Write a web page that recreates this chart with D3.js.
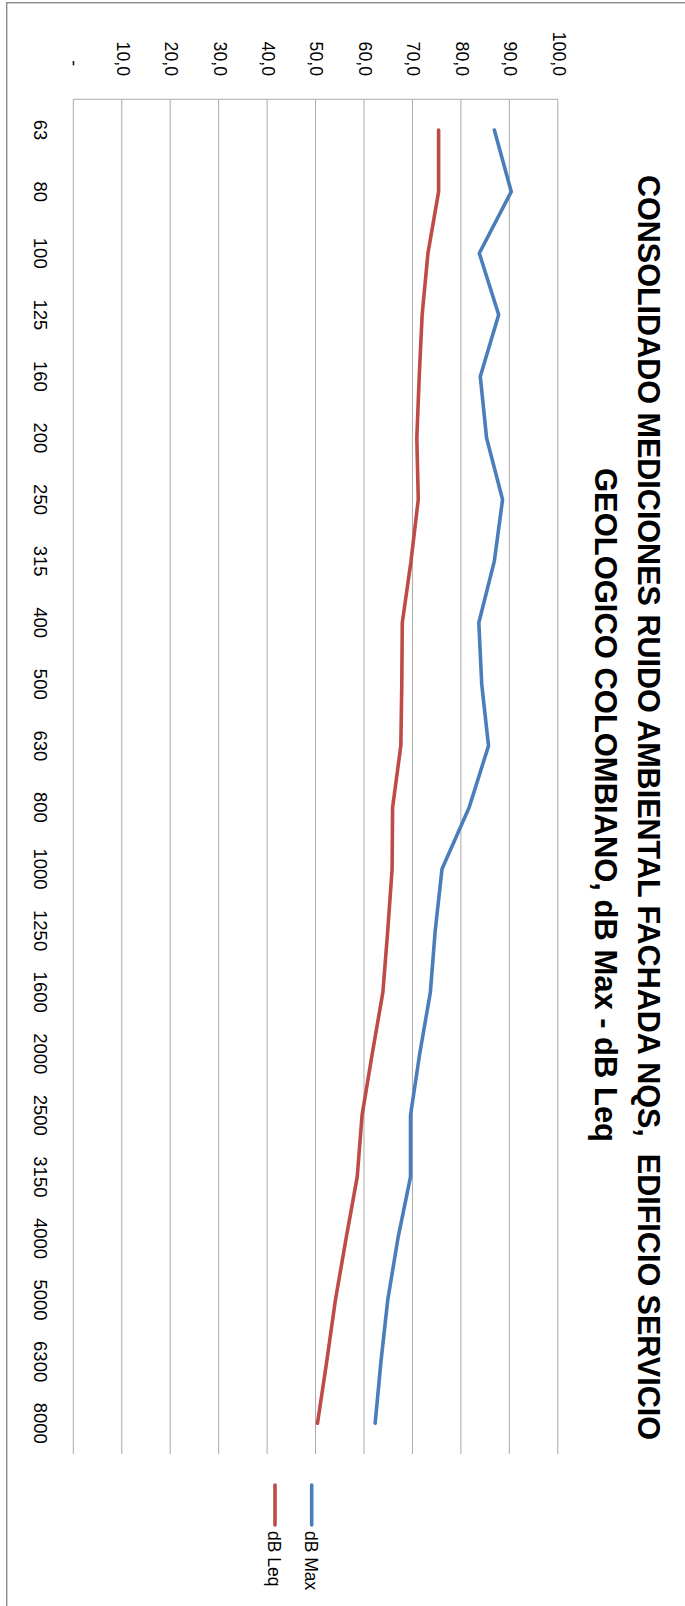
<!DOCTYPE html>
<html>
<head>
<meta charset="utf-8">
<script src="https://cdn.jsdelivr.net/npm/d3@7"></script>
<style>
  html, body { margin: 0; padding: 0; background: #fff; }
  svg { display: block; }
</style>
</head>
<body>
<svg id="chart" width="685" height="1606"></svg>
<script>
// ---- data ----
const categories = ["63","80","100","125","160","200","250","315","400","500","630","800","1000","1250","1600","2000","2500","3150","4000","5000","6300","8000"];
const dbMax = [86.9, 90.4, 83.8, 87.8, 84.0, 85.3, 88.6, 86.9, 83.7, 84.3, 85.7, 81.7, 76.1, 74.7, 73.7, 71.5, 69.6, 69.6, 67.0, 64.9, 63.5, 62.3];
const dbLeq = [75.4, 75.4, 73.2, 72.0, 71.4, 70.9, 71.2, 69.7, 67.9, 67.8, 67.6, 65.9, 65.8, 64.9, 63.9, 61.7, 59.6, 58.6, 56.3, 54.1, 52.3, 50.4];
const valueTicks = [0, 10, 20, 30, 40, 50, 60, 70, 80, 90, 100];
const seriesNames = ["dB Max", "dB Leq"];
const seriesColors = ["#4A7EBB", "#BE4B48"];
const titleLines = ["CONSOLIDADO MEDICIONES RUIDO AMBIENTAL FACHADA NQS,  EDIFICIO SERVICIO", "GEOLOGICO COLOMBIANO, dB Max - dB Leq"];

// ---- layout (unrotated frame: width 1606, height 685; rotated 90deg clockwise) ----
const W = 1606, H = 685;
const plot = { x0: 99.3, x1: 1454, y0: 127.2, y1: 611.7 };
const font = "'Liberation Sans', Arial, sans-serif";
const titleSpan = [[175, 1440, 46.7], [468, 1142, 90]];

const svg = d3.select("#chart");

// chart area border (screen coords)
svg.append("rect")
  .attr("x", 6.7).attr("y", 2.7)
  .attr("width", 720).attr("height", 1640)
  .attr("fill", "none").attr("stroke", "#8a8a8a").attr("stroke-width", 1.4);

const g = svg.append("g").attr("transform", `translate(${H},0) rotate(90)`);

const x = d3.scaleBand().domain(categories).range([plot.x0, plot.x1]).padding(0);
const y = d3.scaleLinear().domain([0, 100]).range([plot.y1, plot.y0]);
const cx = c => x(c) + x.bandwidth() / 2;

// gridlines
g.append("g").selectAll("line").data(valueTicks).join("line")
  .attr("x1", plot.x0).attr("x2", plot.x1)
  .attr("y1", d => y(d)).attr("y2", d => y(d))
  .attr("stroke", "#a9a9a9").attr("stroke-width", 1);

// value axis line
g.append("line")
  .attr("x1", plot.x0).attr("x2", plot.x0)
  .attr("y1", y(0)).attr("y2", y(100))
  .attr("stroke", "#a9a9a9").attr("stroke-width", 1);

// value axis labels
const yAxis = d3.axisLeft(y).tickValues(valueTicks).tickSize(0).tickPadding(0)
  .tickFormat(d => d === 0 ? "-\u2007" : d3.format(".1f")(d).replace(".", ","));
const ya = g.append("g").attr("transform", "translate(76,0)").call(yAxis);
ya.select(".domain").remove();
ya.selectAll("text")
  .attr("dy", 4.6).attr("x", 0)
  .style("white-space", "pre")
  .attr("font-family", font).attr("font-size", 17.7).attr("fill", "#000");

// category axis labels
const xAxis = d3.axisBottom(x).tickSize(0).tickPadding(0);
const xa = g.append("g").attr("transform", "translate(0,651)").call(xAxis);
xa.select(".domain").remove();
xa.selectAll("text")
  .attr("y", 0).attr("dy", 0)
  .attr("font-family", font).attr("font-size", 18.5).attr("fill", "#000");

// series lines
const line = d3.line().x((d, i) => cx(categories[i])).y(d => y(d));
[dbMax, dbLeq].forEach((s, k) => {
  g.append("path").datum(s)
    .attr("d", line)
    .attr("fill", "none")
    .attr("stroke", seriesColors[k])
    .attr("stroke-width", 3.6)
    .attr("stroke-linejoin", "round")
    .attr("stroke-linecap", "round");
});

// title
g.append("g").selectAll("text").data(titleLines).join("text")
  .attr("x", (d, i) => titleSpan[i][0])
  .attr("y", (d, i) => titleSpan[i][2])
  .attr("textLength", (d, i) => titleSpan[i][1] - titleSpan[i][0])
  .attr("lengthAdjust", "spacingAndGlyphs")
  .style("white-space", "pre")
  .attr("font-family", font).attr("font-weight", "bold").attr("font-size", 30.6)
  .attr("fill", "#000")
  .text(d => d);

// legend
const legendY = [373.3, 410];
const leg = g.append("g").selectAll("g").data(seriesNames).join("g");
leg.append("line")
  .attr("x1", 1485).attr("x2", 1525)
  .attr("y1", (d, i) => legendY[i]).attr("y2", (d, i) => legendY[i])
  .attr("stroke", (d, i) => seriesColors[i])
  .attr("stroke-width", 3.6).attr("stroke-linecap", "round");
leg.append("text")
  .attr("x", 1531).attr("y", (d, i) => legendY[i] + 6.8)
  .attr("font-family", font).attr("font-size", 17.5).attr("fill", "#000")
  .text(d => d);
</script>
</body>
</html>
